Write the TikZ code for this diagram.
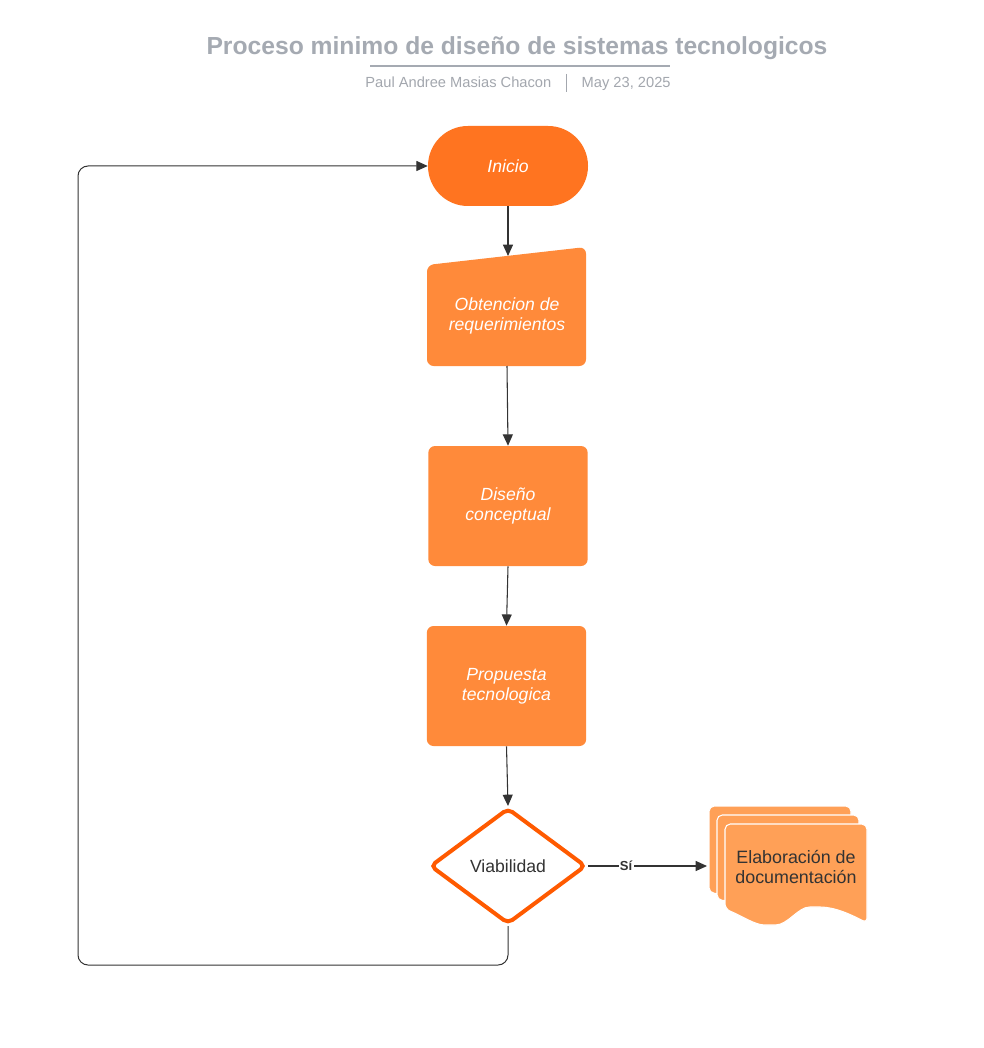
\documentclass[tikz,border=0pt]{standalone}
\usepackage{fontspec}
\setmainfont{Liberation Sans}
\usetikzlibrary{arrows.meta,shapes.geometric}
\definecolor{inicioC}{HTML}{FF7420}
\definecolor{procC}{HTML}{FF8A3A}
\definecolor{docC}{HTML}{FFA057}
\definecolor{diaC}{HTML}{FF5A00}
\definecolor{titleC}{HTML}{A5AAB2}
\definecolor{subC}{HTML}{A3A7AE}
\definecolor{lineC}{HTML}{333333}
\begin{document}
\begin{tikzpicture}[x=0.75pt,y=-0.75pt,
  conn/.style={draw=lineC, line width=0.8pt, -{Triangle[length=8.5pt,width=7.5pt]}},
  loopline/.style={draw=lineC, line width=0.75pt, rounded corners=7.5pt, -{Triangle[length=8.5pt,width=7.5pt]}},
  proctext/.style={text=white, font=\fontsize{13.2}{15}\selectfont\itshape, align=center},
  procbox/.style={rectangle, fill=procC, rounded corners=5pt, minimum width=119.5pt, minimum height=90pt, inner sep=0pt, proctext},
  docshape/.style={fill=docC, draw=white, line width=0.8pt, rounded corners=4pt}
]
\useasboundingbox (0,0) rectangle (983,1048);
\fill[white] (0,0) rectangle (983,1048);

% title
\node[text=titleC, font=\fontsize{18.5}{22}\selectfont\bfseries] (title) at (517,48) {Proceso minimo de diseño de sistemas tecnologicos};
\coordinate (ulA) at (370,66);
\coordinate (ulB) at (670,66);
\draw[titleC, line width=1.2pt] (ulA) -- (ulB);
\node[text=subC, font=\fontsize{11}{13}\selectfont, anchor=base east] (author) at (556,88) {Paul Andree Masias Chacon};
\node[text=subC, font=\fontsize{11}{13}\selectfont, anchor=base west] (date) at (577,88) {May 23, 2025};
\coordinate (sepA) at (566,74);
\coordinate (sepB) at (566,92);
\draw[subC, line width=0.6pt] (sepA) -- (sepB);

% Inicio
\node[rectangle, fill=inicioC, rounded corners=29.9pt, minimum width=120pt, minimum height=60pt, inner sep=0pt, proctext] (ini) at (508,166) {Inicio};

% Obtencion (manual input)
\fill[procC, rounded corners=5pt] (427,265) -- (586,247) -- (586,366) -- (427,366) -- cycle;
\node[proctext] (obt) at (507,316) {Obtencion de\\requerimientos};
\coordinate (obttop) at (508,256);
\coordinate (obtbot) at (507,366);

% Diseño conceptual
\node[procbox] (dis) at (508,506) {Diseño\\conceptual};

% Propuesta tecnologica
\node[procbox] (prop) at (506.5,686) {Propuesta\\tecnologica};

% Viabilidad
\node[diamond, draw=diaC, fill=white, line width=3pt, rounded corners=4pt, minimum width=117pt, minimum height=87pt, inner sep=0pt, text=lineC, font=\fontsize{13.2}{15}\selectfont] (via) at (508,866) {Viabilidad};

% Document stack
\begin{scope}[docshape]
\path[docshape] (709,893) -- (709,806) -- (851,806) -- (851,900) -- cycle;
\path[docshape] (717,900) -- (717,815) -- (859,815) -- (859,910) -- cycle;
\path[fill=docC, draw=white, line width=0.8pt] (725,909)
   .. controls (742,916) and (755,925) .. (770,925)
   .. controls (788,925) and (798,907) .. (815,907)
   .. controls (835,907) and (852,915) .. (867,923)
   [rounded corners=4pt] -- (867,824) -- (725,824) -- cycle;
\end{scope}
\node[text=lineC, font=\fontsize{13.4}{15}\selectfont, align=center] (doc) at (796,867) {Elaboración de\\documentación};
\coordinate (docin) at (707,866);

% connectors
\draw[conn] (ini.south) -- (obttop);
\draw[conn] (obtbot) -- (dis.north);
\draw[conn] (dis.south) -- (prop.north);
\draw[conn] (prop.south) -- (via.north);
\draw[conn] (via.east) -- node[fill=white, inner sep=1pt, text=lineC, font=\fontsize{9.8}{12}\selectfont\bfseries, pos=0.32] {Sí} (docin);
\draw[loopline] (via.south) |- (78,965) |- (ini.west);
\end{tikzpicture}
\end{document}
